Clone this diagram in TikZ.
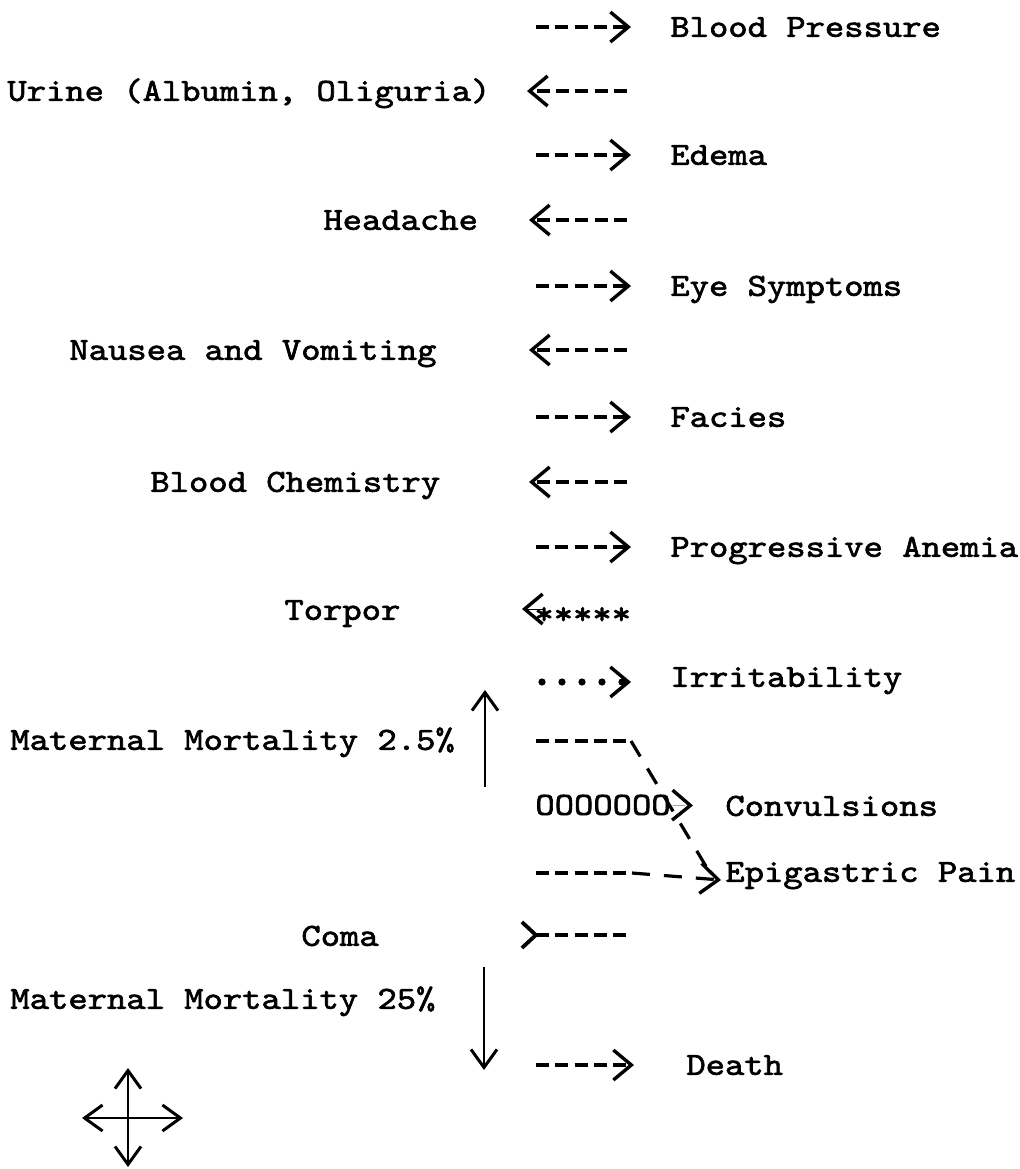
\documentclass[tikz,border=0pt]{standalone}
\usepackage{fontspec}
\usetikzlibrary{arrows.meta}
\newfontfamily\tw{lmmono10-regular.otf}[FakeStretch=1.143,FakeBold=2]
\begin{document}
\begin{tikzpicture}[x=0.5pt,y=-0.5pt,
  lbl/.style={font={\fontsize{16.1}{19}\selectfont\tw}, inner sep=0pt, text height=9.8pt, text depth=0pt, anchor=west},
  raw/.style={font={\fontsize{16.1}{19}\selectfont\tw}, inner sep=0pt, anchor=base west},
  barb/.tip={Straight Barb[length=9pt,width=15pt,line width=1.7pt]},
  barbR/.tip={Straight Barb[length=7pt,width=13pt,line width=1.9pt,reversed]},
  barbS/.tip={Straight Barb[length=9pt,width=13pt,line width=1.5pt]},
  dsh/.style={line width=2pt, dash pattern=on 6.5pt off 3.15pt},
  dshL/.style={line width=1.6pt, dash pattern=on 9pt off 7pt},
  dots/.style={line width=3.6pt, line cap=round, dash pattern=on 0pt off 10pt},
  hair/.style={line width=0.1pt},
  sol/.style={line width=1.2pt}
]
\fill[white] (0,0) rectangle (1019,1169);
\useasboundingbox (0,0) rectangle (1019,1169);

% right column labels
\node[lbl] (bp)     at (670,27)   {Blood Pressure};
\node[lbl] (edema)  at (670,155)  {Edema};
\node[lbl] (eye)    at (670,286)  {Eye Symptoms};
\node[lbl] (facies) at (670,417)  {Facies};
\node[lbl] (anemia) at (670,547)  {Progressive Anemia};
\node[lbl] (irrit)  at (670,677)  {Irritability};
\node[lbl] (conv)   at (725,806)  {Convulsions};
\node[lbl] (epi)    at (725,872)  {Epigastric Pain};
\node[lbl] (death)  at (686,1065) {Death};

% left column labels
\node[lbl] (urine)  at (7,91)     {Urine (Albumin, Oliguria)};
\node[lbl] (head)   at (323,220)  {Headache};
\node[lbl] (nausea) at (69,350)   {Nausea and Vomiting};
\node[lbl] (chem)   at (150,482)  {Blood Chemistry};
\node[lbl] (torpor) at (284,610)  {Torpor};
\node[lbl] (mm1)    at (10,740)   {Maternal Mortality 2.5\%};
\node[lbl] (coma)   at (301,936)  {Coma};
\node[lbl] (mm2)    at (10,999)   {Maternal Mortality 25\%};

% typed fillers
\node[raw] (ast) at (534,624) {*****};
\node[lbl] (ooo) at (535,805) {OOOOOOO};

% free ends of the typed arrows
\coordinate (u0) at (627,91);  \coordinate (u1) at (527,91);
\coordinate (h0) at (627,220); \coordinate (h1) at (529,220);
\coordinate (n0) at (627,350); \coordinate (n1) at (529,350);
\coordinate (c0) at (627,482); \coordinate (c1) at (529,482);
\coordinate (t0) at (545,609); \coordinate (t1) at (522,609);
\coordinate (k0) at (520,935); \coordinate (k1) at (627,935);
\coordinate (m0) at (536,741); \coordinate (m1) at (631,741);
\coordinate (e0) at (536,873); \coordinate (e1) at (632,873);
\coordinate (eTip) at (721,880); \coordinate (dEnd) at (713,878);
\coordinate (up0) at (485,787); \coordinate (up1) at (485,690);
\coordinate (dn0) at (484,967); \coordinate (dn1) at (484,1070);
\coordinate (o0) at (665,805);

% right-pointing dashed arrows
\foreach \n in {bp,edema,eye,facies,anemia}
  \draw[dsh,-{barb}] ([xshift=-67pt]\n.west) -- (\n.west) [shorten >=19.5pt];
\draw[dsh,-{barb},shorten >=26pt] ([xshift=-75pt]death.west) -- (death.west);

% left-pointing dashed arrows
\draw[dsh,-{barb}] (u0) -- (u1);
\draw[dsh,-{barb}] (h0) -- (h1);
\draw[dsh,-{barb}] (n0) -- (n1);
\draw[dsh,-{barb}] (c0) -- (c1);
\draw[hair,-{barb}] (t0) -- (t1);

% dotted arrow to Irritability
\draw[dots,-{barb},shorten >=19.5pt] ([xshift=-64pt,yshift=-2.5pt]irrit.west) -- ([yshift=-2.5pt]irrit.west);

% Convulsions chevron
\draw[hair,-{barb},shorten >=16pt] (o0) -- (conv.west);

% Maternal mortality 2.5% row: dashes turning down to Epigastric Pain
\draw[dsh] (m0) -- (m1);
\draw[dshL] (m1) -- (dEnd);

% Epigastric row
\draw[dsh] (e0) -- (e1);
\draw[dshL,-{barb}] (e1) -- (eTip);

% Coma row  >----
\draw[dsh,{barbR}-] (k0) -- (k1);

% vertical mortality arrows
\draw[sol,-{barbS}] (up0) -- (up1);
\draw[sol,-{barbS}] (dn0) -- (dn1);

% cross of arrows
\coordinate (cross) at (128,1118);
\draw[sol,{barbS}-{barbS}] ([xshift=-23pt]cross) -- ([xshift=27.5pt]cross);
\draw[sol,{barbS}-{barbS}] ([yshift=25pt]cross) -- ([yshift=-24.5pt]cross);
\end{tikzpicture}
\end{document}
